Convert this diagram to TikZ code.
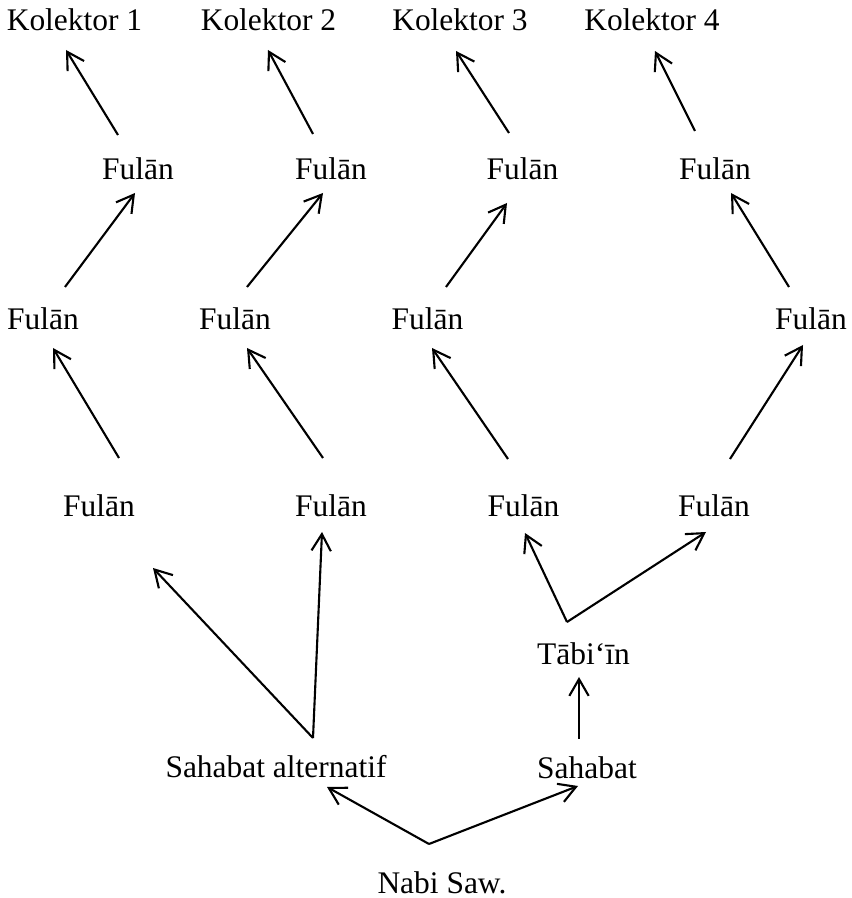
\documentclass[tikz,border=0pt]{standalone}
\usepackage{fontspec}
\setmainfont{Liberation Serif}
\usetikzlibrary{arrows.meta}

\begin{document}
\begin{tikzpicture}[
    lbl/.style={inner sep=0pt, font=\fontsize{17.9}{21}\selectfont},
    arr/.style={-{Straight Barb[angle=60:11pt]}, line width=1.2pt}
]
    \useasboundingbox (0,0) rectangle (17.04,17.96);

    % Kolektor
    \node[lbl] (k1) at (1.49,17.57) {Kolektor 1};
    \node[lbl] (k2) at (5.37,17.57) {Kolektor 2};
    \node[lbl] (k3) at (9.20,17.57) {Kolektor 3};
    \node[lbl] (k4) at (13.04,17.57) {Kolektor 4};

    % Fulan, row 1
    \node[lbl] (r1a) at (2.76,14.58) {Fulān};
    \node[lbl] (r1b) at (6.62,14.58) {Fulān};
    \node[lbl] (r1c) at (10.45,14.58) {Fulān};
    \node[lbl] (r1d) at (14.30,14.58) {Fulān};

    % Fulan, row 2
    \node[lbl] (r2a) at (0.86,11.59) {Fulān};
    \node[lbl] (r2b) at (4.70,11.59) {Fulān};
    \node[lbl] (r2c) at (8.55,11.58) {Fulān};
    \node[lbl] (r2d) at (16.22,11.58) {Fulān};

    % Fulan, row 3
    \node[lbl] (r3a) at (1.98,7.84) {Fulān};
    \node[lbl] (r3b) at (6.62,7.84) {Fulān};
    \node[lbl] (r3c) at (10.47,7.84) {Fulān};
    \node[lbl] (r3d) at (14.28,7.84) {Fulān};

    % Sahabat, Tabiin, Nabi
    \node[lbl] (tabiin) at (11.67,4.88) {Tābi‘īn};
    \node[lbl] (sah) at (11.74,2.61) {Sahabat};
    \node[lbl] (sahalt) at (5.52,2.62) {Sahabat alternatif};
    \node[lbl] (nabi) at (8.84,0.30) {Nabi Saw.};

    % row 1 to Kolektor
    \draw[arr] ([shift={(-0.40,0.68)}]r1a.center) -- ([shift={(-0.17,-0.61)}]k1.center);
    \draw[arr] ([shift={(-0.36,0.70)}]r1b.center) -- ([shift={(-0.01,-0.61)}]k2.center);
    \draw[arr] ([shift={(-0.27,0.72)}]r1c.center) -- ([shift={(-0.08,-0.63)}]k3.center);
    \draw[arr] ([shift={(-0.40,0.76)}]r1d.center) -- ([shift={(0.06,-0.63)}]k4.center);

    % row 2 to row 1
    \draw[arr] ([shift={(0.44,0.63)}]r2a.center) -- ([shift={(-0.06,-0.48)}]r1a.center);
    \draw[arr] ([shift={(0.24,0.63)}]r2b.center) -- ([shift={(-0.16,-0.48)}]r1b.center);
    \draw[arr] ([shift={(0.37,0.64)}]r2c.center) -- ([shift={(-0.31,-0.68)}]r1c.center);
    \draw[arr] ([shift={(-0.44,0.64)}]r2d.center) -- ([shift={(0.32,-0.48)}]r1d.center);

    % row 3 to row 2
    \draw[arr] ([shift={(0.40,0.96)}]r3a.center) -- ([shift={(0.20,-0.59)}]r2a.center);
    \draw[arr] ([shift={(-0.16,0.96)}]r3b.center) -- ([shift={(0.24,-0.59)}]r2b.center);
    \draw[arr] ([shift={(-0.31,0.94)}]r3c.center) -- ([shift={(0.09,-0.58)}]r2c.center);
    \draw[arr] ([shift={(0.32,0.94)}]r3d.center) -- ([shift={(-0.16,-0.52)}]r2d.center);

    % Sahabat alternatif
    \draw[arr] ([shift={(0.74,0.58)}]sahalt.center) -- ([shift={(1.08,-1.24)}]r3a.center);
    \draw[arr] ([shift={(0.74,0.58)}]sahalt.center) -- ([shift={(-0.18,-0.52)}]r3b.center);

    % Tabiin
    \draw[arr] ([shift={(-0.33,0.64)}]tabiin.center) -- ([shift={(0.03,-0.54)}]r3c.center);
    \draw[arr] ([shift={(-0.33,0.64)}]tabiin.center) -- ([shift={(-0.16,-0.52)}]r3d.center);
    \draw[arr] ([shift={(-0.16,0.57)}]sah.center) -- ([shift={(-0.09,-0.46)}]tabiin.center);

    % Nabi
    \draw[arr] ([shift={(-0.26,0.78)}]nabi.center) -- ([shift={(1.02,-0.40)}]sahalt.center);
    \draw[arr] ([shift={(-0.26,0.78)}]nabi.center) -- ([shift={(-0.18,-0.37)}]sah.center);
\end{tikzpicture}
\end{document}
